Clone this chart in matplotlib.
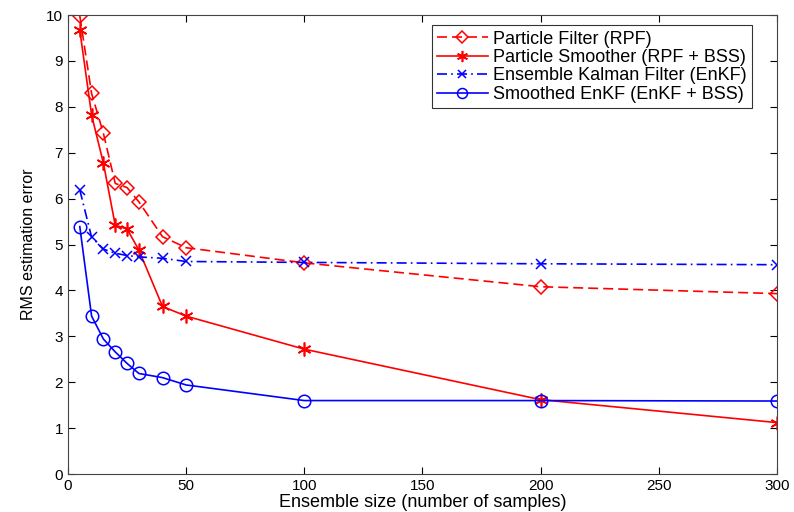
import numpy as np
import matplotlib.pyplot as plt
from matplotlib import font_manager

# ensemble sizes
ens_size = [5, 10, 15, 20, 25, 30, 40, 50, 100, 200, 300]

# RMS errors
rpf = [9.98, 8.29, 7.42, 6.33, 6.24, 5.93, 5.17, 4.93, 4.60, 4.08, 3.93]
rpf_bss = [9.67, 7.82, 6.77, 5.42, 5.34, 4.88, 3.65, 3.44, 2.72, 1.62, 1.12]
enkf = [6.19, 5.16, 4.90, 4.81, 4.76, 4.73, 4.70, 4.63, 4.61, 4.58, 4.56]
enkf_bss = [5.39, 3.44, 2.94, 2.66, 2.41, 2.19, 2.10, 1.94, 1.60, 1.60, 1.59]

labels = ['Particle Filter (RPF)', 'Particle Smoother (RPF + BSS)',
          'Ensemble Kalman Filter (EnKF)', 'Smoothed EnKF (EnKF + BSS)']

names = {f.name for f in font_manager.fontManager.ttflist}
narrow = 'Liberation Sans Narrow' if 'Liberation Sans Narrow' in names else 'Liberation Sans'
plt.rcParams['font.family'] = ['Liberation Sans', 'DejaVu Sans']

fig = plt.figure(figsize=(7.94, 5.12), dpi=100)
ax = fig.add_axes([0.0856, 0.0742, 0.893, 0.8965])

ax.plot(ens_size, rpf, ls=(0, (6, 3)), color='red', marker='D', mfc='none', ms=7.5, mew=1.1, lw=1.2, label=labels[0])
ax.plot(ens_size, rpf_bss, '-', color='red', marker=(6, 2, 0), ms=10, mew=1.2, lw=1.2, label=labels[1])
ax.plot(ens_size, enkf, ls=(0, (6, 2.5, 1, 2.5)), color='blue', marker='x', ms=7, mew=1.1, lw=1.2, label=labels[2])
ax.plot(ens_size, enkf_bss, '-', color='blue', marker='o', mfc='none', ms=9, mew=1.1, lw=1.2, label=labels[3])

ax.set_xlim(0, 300)
ax.set_ylim(0, 10)
ax.set_xticks(np.arange(0, 301, 50))
ax.set_yticks(np.arange(0, 11, 1))
ax.tick_params(direction='in', top=True, right=True, labelsize=11, length=5, width=0.8)
for s in ax.spines.values():
    s.set_linewidth(0.8)
    s.set_color('#444444')

ax.set_xlabel('Ensemble size (number of samples)', fontsize=13, family=narrow, labelpad=1)
ax.set_ylabel('RMS estimation error', fontsize=11.5, family=narrow, labelpad=7)

leg = ax.legend(loc='upper right', bbox_to_anchor=(0.9647, 0.978), fontsize=13,
                fancybox=False, edgecolor='black', borderaxespad=0, handlelength=2.8,
                handletextpad=0.3, labelspacing=0.08, borderpad=0.3, markerscale=0.8)
leg.get_frame().set_linewidth(0.8)

fig.savefig('out.png', dpi=100)
